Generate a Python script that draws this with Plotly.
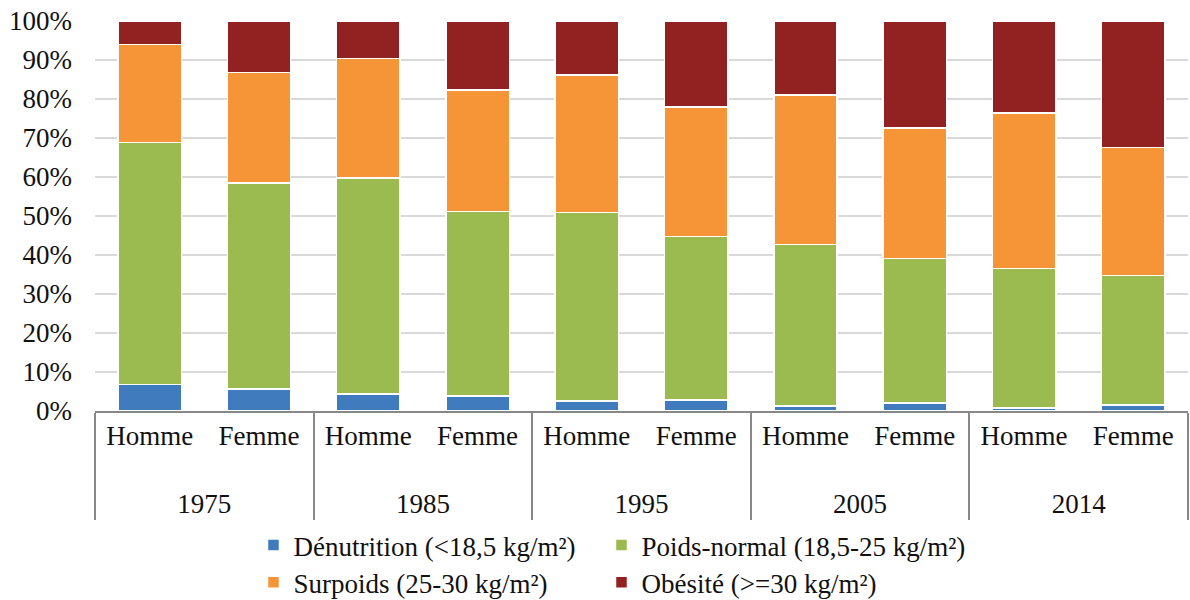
import plotly.graph_objects as go

years = ["1975", "1975", "1985", "1985", "1995", "1995", "2005", "2005", "2014", "2014"]
sexes = ["Homme", "Femme"] * 5

denutrition = [6.8, 5.6, 4.4, 3.9, 2.6, 2.8, 1.3, 2.0, 0.8, 1.5]
poids_normal = [62.1, 52.9, 55.3, 47.3, 48.3, 41.9, 41.4, 37.1, 35.7, 33.3]
surpoids = [25.1, 28.3, 30.7, 31.1, 35.3, 33.3, 38.3, 33.5, 39.9, 32.8]
obesite = [6.0, 13.2, 9.6, 17.7, 13.8, 22.0, 19.0, 27.4, 23.6, 32.4]

series = [
    ("Dénutrition (<18,5 kg/m²)", denutrition, "#3f7bbd"),
    ("Poids-normal (18,5-25 kg/m²)", poids_normal, "#9bbb51"),
    ("Surpoids (25-30 kg/m²)", surpoids, "#f59538"),
    ("Obésité (>=30 kg/m²)", obesite, "#922122"),
]

FONT = "Liberation Serif"

# leading line break pushes the year row further below the sex row
year_labels = ["<br>" + y for y in years]

legend_ids = ["legend", "legend2", "legend3", "legend4"]

fig = go.Figure()
for (name, vals, color), leg in zip(series, legend_ids):
    fig.add_trace(go.Bar(
        x=[year_labels, sexes], y=vals, name=name, legend=leg, showlegend=True,
        marker=dict(color=color, line=dict(color="white", width=1.5)),
    ))

# one legend per entry -> 2x2 grid under the chart
legend_style = dict(
    orientation="h", xanchor="left", yanchor="middle",
    font=dict(family=FONT, size=27, color="#111"),
    itemclick=False, bgcolor="rgba(0,0,0,0)",
)
col_x = [0.145, 0.4634]
row_y = [-0.345, -0.44]
fig.update_layout(
    barmode="stack",
    barnorm="percent",
    bargap=0.42,
    width=1190, height=600,
    margin=dict(l=95, r=2, t=21, b=189, autoexpand=False),
    plot_bgcolor="white", paper_bgcolor="white",
    font=dict(family=FONT, size=27, color="#111"),
    showlegend=True,
    legend=dict(x=col_x[0], y=row_y[0], **legend_style),
    legend2=dict(x=col_x[1], y=row_y[0], **legend_style),
    legend3=dict(x=col_x[0], y=row_y[1], **legend_style),
    legend4=dict(x=col_x[1], y=row_y[1], **legend_style),
)
fig.update_yaxes(
    range=[0, 100], dtick=10, ticksuffix="%",
    showgrid=True, gridcolor="#d9d9d9", gridwidth=2,
    zeroline=False, showline=False, automargin=False,
    ticklabelstandoff=22,
)
fig.update_xaxes(
    showline=True, linecolor="#888", linewidth=2,
    showdividers=True, dividercolor="#888", dividerwidth=2,
    ticks="", tickson="boundaries", automargin=False,
)

fig.write_html("out.html", config={"displayModeBar": False},
               post_script="document.body.style.margin='0';")
